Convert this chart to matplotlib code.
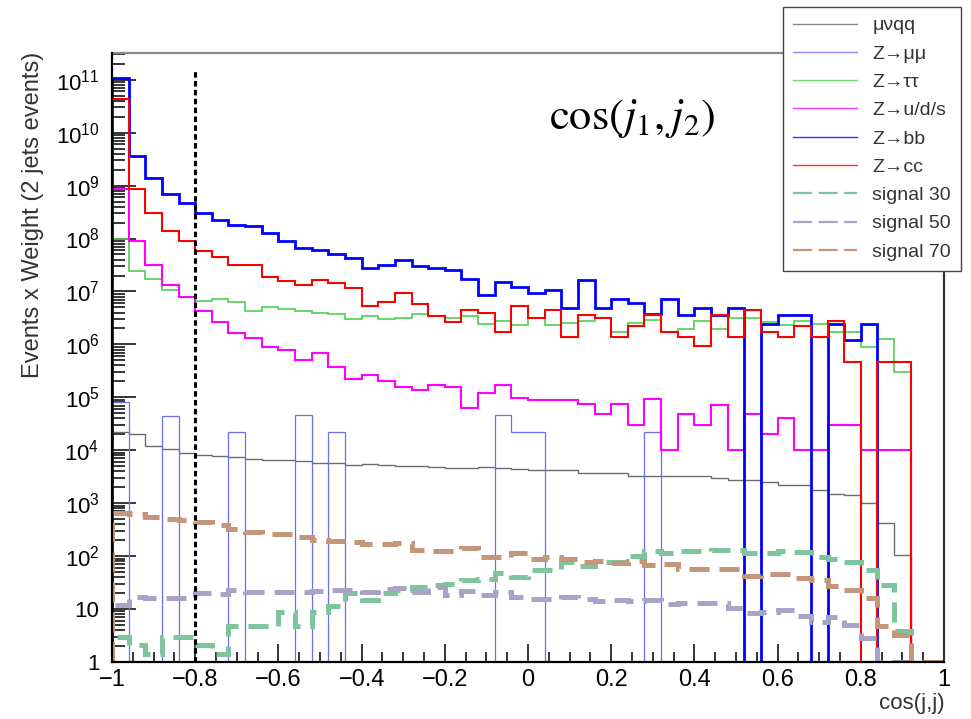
import numpy as np
import matplotlib
matplotlib.use('Agg')
import matplotlib.pyplot as plt
from matplotlib.lines import Line2D
from matplotlib.ticker import LogLocator, NullFormatter, MultipleLocator

plt.rcParams['font.family'] = ['Liberation Sans', 'DejaVu Sans']
plt.rcParams['mathtext.default'] = 'regular'
plt.rcParams['mathtext.fontset'] = 'stix'

# binning: 50 bins of cos(j,j) between -1 and 1
n_bins = 50
x_lo, x_hi = -1.0, 1.0
y_lo, y_hi = 1.0, 3.2e11
cut_x, cut_top = -0.8, 1.6e11

# muvqq
mvqq = [2.2e4, 2.05e4, 1.2e4, 1.05e4, 8.9e3, 8.3e3, 7.8e3, 7.4e3, 6.9e3, 6.6e3,
        6.5e3, 6.2e3, 5.8e3, 5.8e3, 5.2e3, 5.4e3, 5.2e3, 5.0e3, 5.0e3, 4.8e3,
        4.6e3, 4.6e3, 4.8e3, 4.6e3, 4.4e3, 4.2e3, 4.2e3, 4.2e3, 3.7e3, 3.7e3,
        3.7e3, 3.3e3, 3.3e3, 3.3e3, 3.2e3, 3.2e3, 3.0e3, 2.8e3, 2.8e3, 2.5e3,
        2.24e3, 2.24e3, 1.8e3, 1.5e3, 1.45e3, 1.0e3, 430, 107, 0, 0]

# Z->mumu
zmumu = [8.3e4, 0, 0, 4.5e4, 0, 0, 0, 2.2e4, 0, 0,
         0, 4.6e4, 0, 2.2e4, 0, 0, 0, 0, 0, 0,
         0, 0, 0, 4.6e4, 2.2e4, 2.2e4, 0, 0, 0, 0,
         0, 0, 2.2e4, 0, 0, 0, 0, 0, 0, 0,
         0, 0, 0, 0, 0, 0, 0, 0, 0, 0]

# Z->tautau
ztautau = [1.0e8, 2.45e7, 1.7e7, 1.07e7, 7.8e6, 6.6e6, 7.2e6, 6.2e6, 4.2e6, 5.1e6,
           4.7e6, 4.3e6, 3.9e6, 3.7e6, 3.0e6, 3.5e6, 3.0e6, 3.2e6, 3.8e6, 3.4e6,
           3.2e6, 3.5e6, 2.4e6, 2.8e6, 2.3e6, 3.2e6, 2.3e6, 2.5e6, 2.8e6, 3.2e6,
           1.7e6, 2.5e6, 2.9e6, 1.7e6, 1.95e6, 2.8e6, 1.95e6, 3.2e6, 3.2e6, 2.7e6,
           2.3e6, 2.8e6, 2.4e6, 1.74e6, 1.74e6, 9.1e5, 1.26e6, 3.0e5, 0, 0]

# Z->u/d/s
zuds = [8.7e8, 9.1e7, 3.1e7, 1.3e7, 7.8e6, 4.3e6, 2.7e6, 1.66e6, 1.35e6, 8.9e5,
        7.9e5, 5.1e5, 6.9e5, 3.8e5, 2.24e5, 2.6e5, 2.04e5, 1.58e5, 1.38e5, 1.7e5,
        1.58e5, 6.2e4, 1.23e5, 1.7e5, 9.8e4, 9.1e4, 9.1e4, 9.1e4, 7.4e4, 4.9e4,
        7.4e4, 3.0e4, 9.3e4, 1.0e4, 4.9e4, 3.0e4, 7.2e4, 1.0e4, 4.8e4, 2.0e4,
        4.0e4, 1.0e4, 1.0e4, 3.0e4, 3.0e4, 1.0e4, 1.0e4, 1.0e4, 0, 0]

# Z->bb
zbb = [1.1e11, 3.6e9, 1.4e9, 6.9e8, 4.6e8, 3.0e8, 2.2e8, 1.8e8, 1.7e8, 1.3e8,
       9.1e7, 6.6e7, 6.2e7, 5.1e7, 4.2e7, 2.8e7, 3.2e7, 4.0e7, 3.0e7, 2.8e7,
       2.6e7, 1.7e7, 8.5e6, 1.5e7, 1.2e7, 9.5e6, 1.07e7, 4.8e6, 1.66e7, 4.8e6,
       7.2e6, 6.0e6, 3.7e6, 7.2e6, 3.6e6, 4.8e6, 3.6e6, 4.8e6, 0, 2.4e6,
       3.6e6, 3.6e6, 0, 2.4e6, 1.2e6, 2.4e6, 0, 0, 0, 0]

# Z->cc
zcc = [4.4e10, 8.5e8, 3.0e8, 1.4e8, 8.9e7, 5.9e7, 4.5e7, 3.2e7, 3.1e7, 1.9e7,
       1.55e7, 1.3e7, 1.66e7, 1.45e7, 1.17e7, 5.4e6, 6.2e6, 9.3e6, 5.8e6, 3.5e6,
       2.7e6, 4.5e6, 4.0e6, 1.74e6, 5.4e6, 3.2e6, 4.5e6, 1.38e6, 3.6e6, 3.2e6,
       1.38e6, 2.2e6, 3.6e6, 1.74e6, 1.38e6, 9.3e5, 3.6e6, 1.38e6, 4.5e6, 1.74e6,
       1.38e6, 2.2e6, 1.38e6, 2.8e6, 4.6e5, 0, 4.6e5, 4.6e5, 0, 0]

# signals
sig30 = [3.0, 2.1, 1.4, 3.0, 3.0, 2.1, 1.4, 4.8, 4.8, 4.8,
         8.9, 4.8, 8.7, 11.5, 20, 14.8, 20, 23, 26, 29,
         30, 35, 37, 49, 40, 55, 55, 79, 66, 79,
         79, 102, 123, 117, 126, 126, 132, 132, 117, 117,
         123, 120, 95, 89, 79, 55, 29, 3.8, 0, 0]

sig50 = [12, 16.6, 16, 16, 16, 20, 19.5, 23, 21, 21,
         21, 21, 22, 23, 23, 21, 24, 25, 21, 26,
         18.6, 22, 18.6, 21, 16.6, 15.5, 15.8, 16.6, 15.8, 14.5,
         14.8, 14.5, 14.8, 12.6, 12.9, 12.9, 12.9, 10.5, 8.3, 8.9,
         9.5, 7.4, 5.8, 7.2, 5.0, 2.8, 0, 0, 0, 0]

sig70 = [660, 630, 560, 510, 490, 440, 390, 320, 280, 265,
         257, 230, 200, 190, 182, 170, 170, 178, 132, 126,
         126, 145, 98, 95, 117, 89, 98, 89, 79, 81,
         74, 81, 69, 72, 58, 58, 58, 56, 42, 45,
         45, 38, 35, 27, 23, 16, 4.7, 3.2, 0, 0]

labels = ['\u03bc\u03bdqq', 'Z\u2192\u03bc\u03bc', 'Z\u2192\u03c4\u03c4', 'Z\u2192u/d/s',
          'Z\u2192bb', 'Z\u2192cc', 'signal 30', 'signal 50', 'signal 70']
colors = ['#6c6c6c', '#6e6ef2', '#4fcf4f', '#ff00ff', '#0000ff', '#ff0000',
          '#7ec49e', '#a8a4c8', '#c4967a']
widths = [1.0, 0.9, 1.2, 1.5, 2.0, 1.5, 3.6, 3.6, 3.6]

xticks = [-1, -0.8, -0.6, -0.4, -0.2, 0, 0.2, 0.4, 0.6, 0.8, 1]
xtick_labels = ['\u22121', '\u22120.8', '\u22120.6', '\u22120.4', '\u22120.2', '0',
                '0.2', '0.4', '0.6', '0.8', '1']
yticks = [10.0 ** k for k in range(12)]
ytick_labels = ['1', '10'] + ['$10^{%d}$' % k for k in range(2, 12)]

series = [mvqq, zmumu, ztautau, zuds, zbb, zcc, sig30, sig50, sig70]
edges = np.linspace(x_lo, x_hi, n_bins + 1)

fig = plt.figure(figsize=(9.71, 7.19), dpi=100)
ax = fig.add_axes([112 / 971, 1 - 662 / 719, 832 / 971, 609 / 719])

for i, vals in enumerate(series):
    v = np.clip(np.array(vals, dtype=float), y_lo, None)
    ls = (0, (4, 2)) if i >= 6 else '-'
    ax.stairs(v, edges, baseline=y_lo, color=colors[i], lw=widths[i],
              linestyle=ls, zorder=2)

# cut line
ax.vlines(cut_x, y_lo, cut_top, colors='black', lw=2.2,
          linestyles=[(0, (1.8, 1.1))], zorder=3)

ax.set_yscale('log')
ax.set_xlim(x_lo, x_hi)
ax.set_ylim(y_lo, y_hi)

ax.set_xticks(xticks)
ax.set_xticklabels(xtick_labels)
ax.xaxis.set_minor_locator(MultipleLocator(0.05))
ax.set_yticks(yticks)
ax.set_yticklabels(ytick_labels)
ax.yaxis.set_minor_locator(LogLocator(base=10, subs=np.arange(2, 10), numticks=200))
ax.yaxis.set_minor_formatter(NullFormatter())

ax.tick_params(axis='x', which='major', direction='in', length=13, width=1.1,
               labelsize=17, pad=5)
ax.tick_params(axis='x', which='minor', direction='in', length=7, width=1.1)
ax.tick_params(axis='y', which='major', direction='in', length=17, width=1.1,
               labelsize=16, pad=9)
ax.tick_params(axis='y', which='minor', direction='in', length=9, width=1.1)

for s in ['left', 'bottom']:
    ax.spines[s].set_linewidth(1.6)
    ax.spines[s].set_color('black')
    ax.spines[s].set_zorder(4)
ax.spines['top'].set_linewidth(1.6)
ax.spines['top'].set_color('#8a8a8a')
ax.spines['right'].set_linewidth(1.6)
ax.spines['right'].set_color('#333333')

ax.text(0.625, 0.893, r'$\cos(\mathit{j}_1,\mathit{j}_2)$', transform=ax.transAxes,
        family='STIXGeneral', fontsize=32, ha='center', va='center')

fig.text(33 / 971, 1 - 52 / 719, 'Events x Weight (2 jets events)', rotation=90,
         ha='center', va='top', fontsize=17, color='#333333')
fig.text(945 / 971, 1 - 703 / 719, 'cos(j,j)', ha='right', va='center',
         fontsize=16, color='#333333')

handles = []
for i in range(len(labels)):
    if i >= 6:
        h = Line2D([], [], color=colors[i], lw=1.6, linestyle=(0, (8.6, 2.9)))
    else:
        h = Line2D([], [], color=colors[i], lw=1.0, alpha=0.8)
    handles.append(h)

leg = fig.legend(handles, labels, loc='upper left', bbox_to_anchor=(783 / 971, 1 - 7 / 719),
                 borderaxespad=0, fontsize=14, frameon=True, fancybox=False,
                 edgecolor='#444444', framealpha=1, handlelength=3.3,
                 handletextpad=0.8, labelspacing=0.55, borderpad=0.5)
leg.get_frame().set_linewidth(1.0)
for t in leg.get_texts():
    t.set_color('#333333')

fig.savefig('out.png', dpi=100)
